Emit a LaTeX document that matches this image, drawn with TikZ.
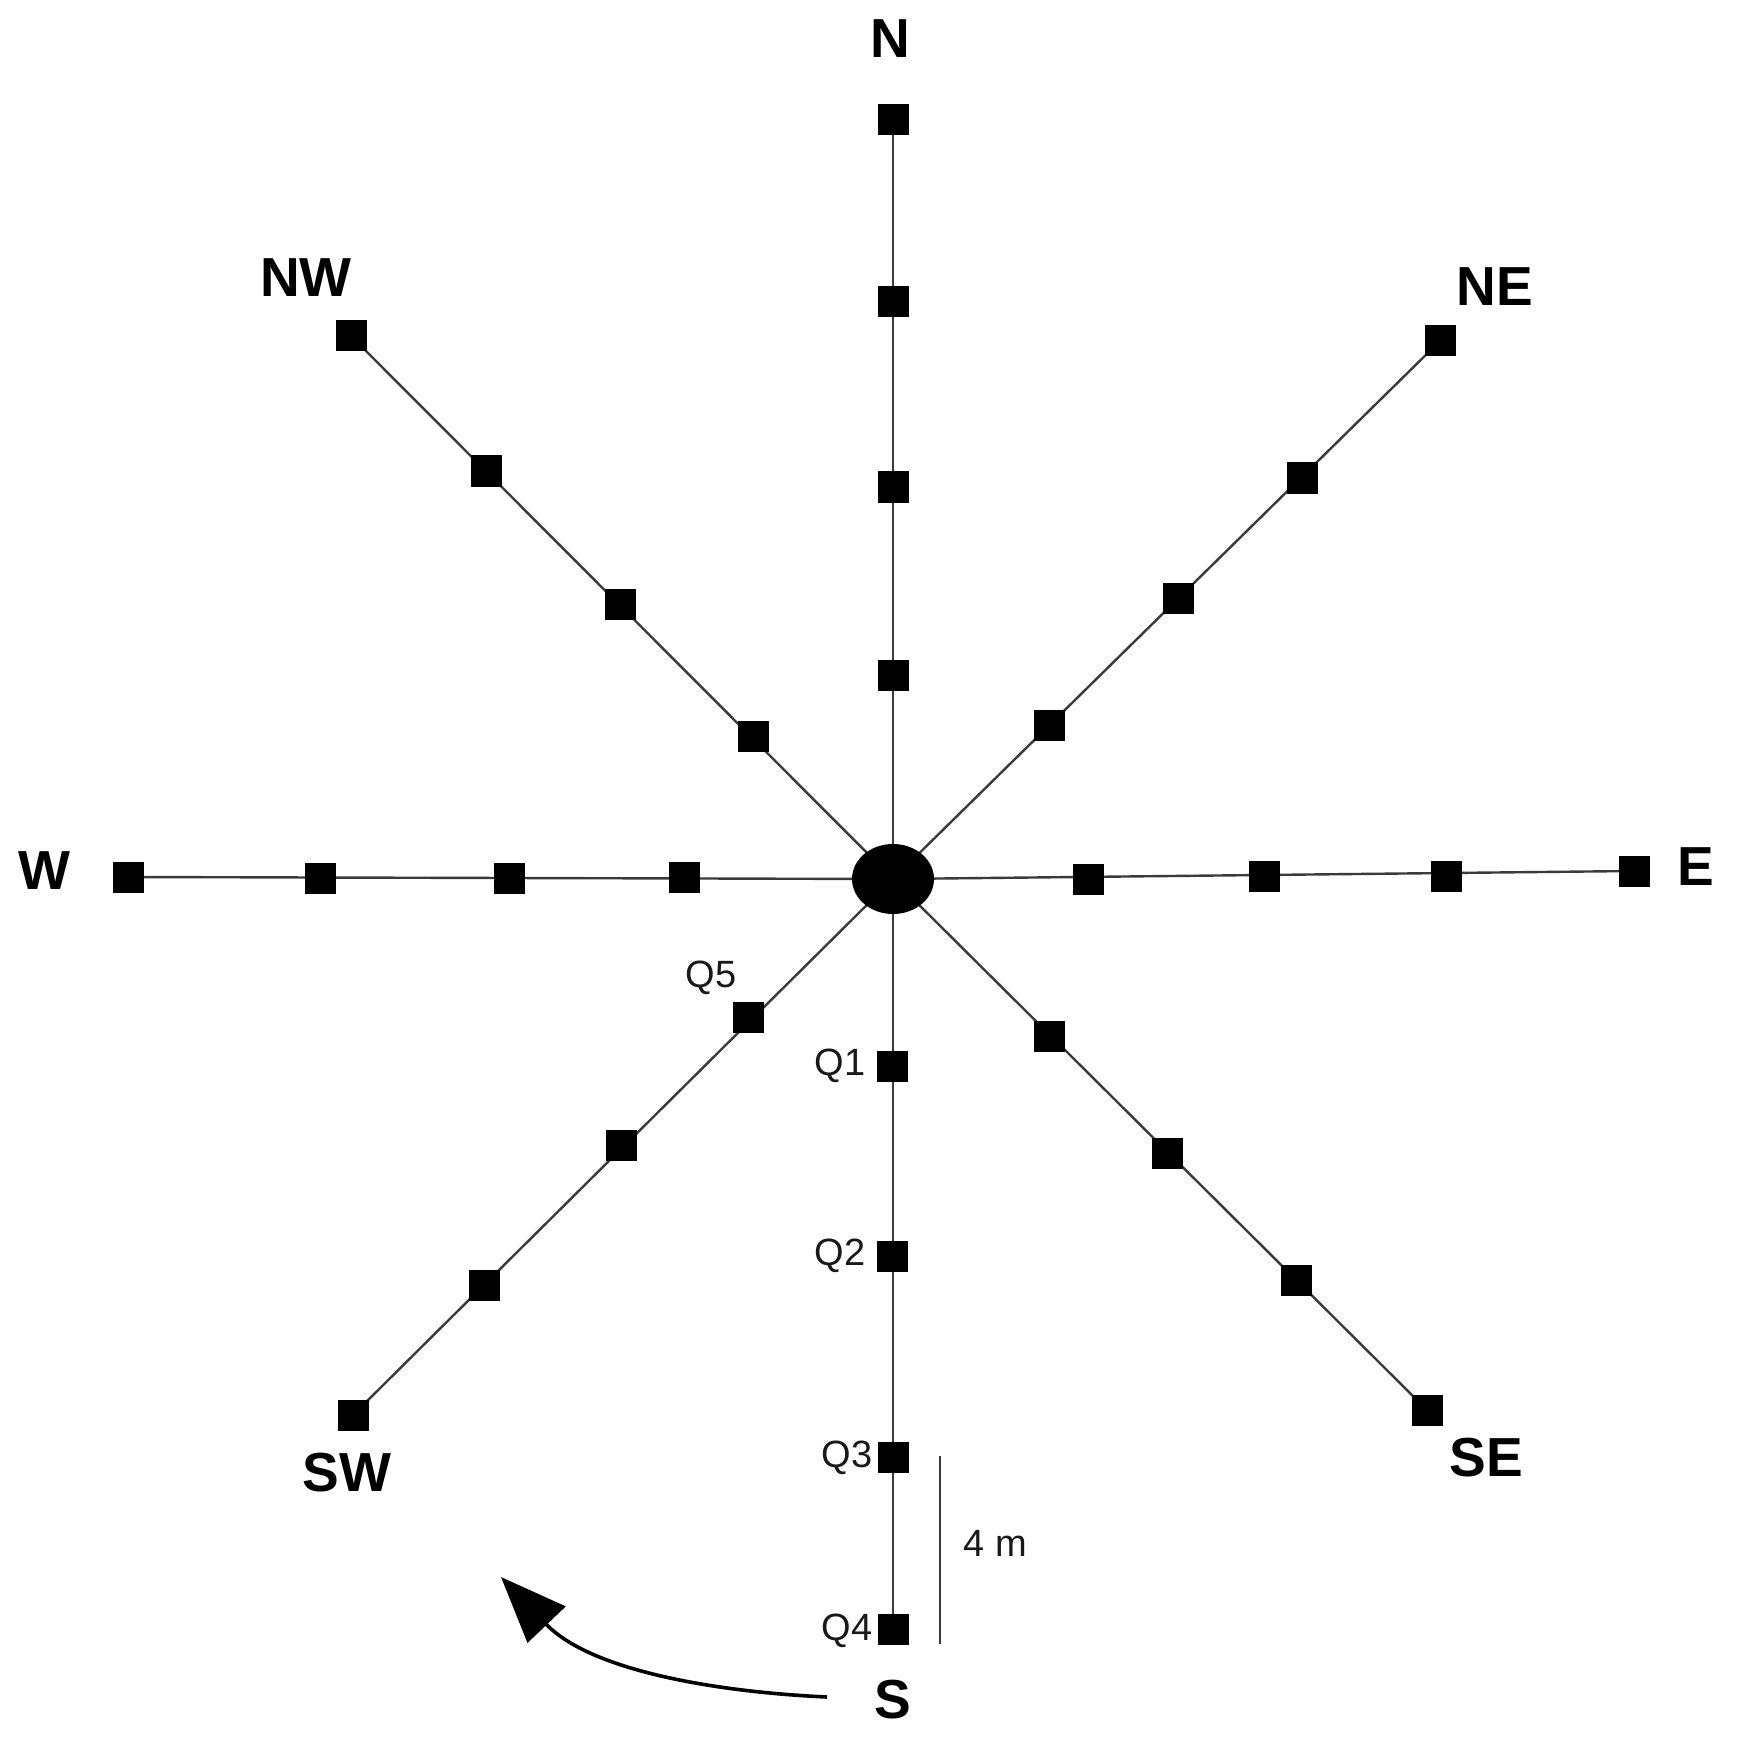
\documentclass[tikz,border=0pt]{standalone}
\usepackage{fontspec}
\setmainfont{Liberation Sans}
\usetikzlibrary{arrows.meta,shapes.geometric,backgrounds}
\definecolor{arm}{HTML}{3A3A3A}
\tikzset{
  plot/.style={fill=black, inner sep=0pt, minimum size=15.5pt, draw=none, shape=rectangle},
  hub/.style={fill=black, draw=none, shape=ellipse, minimum width=41pt, minimum height=35pt, inner sep=0pt},
  arm/.style={draw=arm, line width=1.2pt},
  dirlab/.style={inner sep=0pt, font=\fontsize{27.5}{30}\selectfont\bfseries},
  qlab/.style={inner sep=0pt, font=\fontsize{19}{22}\selectfont, text=black!90},
}
\begin{document}
\begin{tikzpicture}[x=0.5pt,y=-0.5pt]
\useasboundingbox (0,0) rectangle (1743,1754);
% hub
\node[hub] (c) at (893,879) {};
% N arm
\node[plot] (n1) at (893,675) {};
\node[plot] (n2) at (893,487) {};
\node[plot] (n3) at (893,302) {};
\node[plot] (n4) at (893,120) {};
% S arm
\node[plot] (s1) at (892,1066) {};
\node[plot] (s2) at (892,1256) {};
\node[plot] (s3) at (893,1457) {};
\node[plot] (s4) at (893,1629) {};
% E arm
\node[plot] (e1) at (1088,879) {};
\node[plot] (e2) at (1264,876) {};
\node[plot] (e3) at (1446,876) {};
\node[plot] (e4) at (1634,871) {};
% W arm
\node[plot] (w1) at (684,877) {};
\node[plot] (w2) at (509,878) {};
\node[plot] (w3) at (320,878) {};
\node[plot] (w4) at (128,877) {};
% NW arm
\node[plot] (nw1) at (753,736) {};
\node[plot] (nw2) at (620,604) {};
\node[plot] (nw3) at (486,471) {};
\node[plot] (nw4) at (351,336) {};
% NE arm
\node[plot] (ne1) at (1049,725) {};
\node[plot] (ne2) at (1178,598) {};
\node[plot] (ne3) at (1302,478) {};
\node[plot] (ne4) at (1440,341) {};
% SW arm
\node[plot] (sw1) at (748,1017) {};
\node[plot] (sw2) at (621,1145) {};
\node[plot] (sw3) at (484,1285) {};
\node[plot] (sw4) at (353,1415) {};
% SE arm
\node[plot] (se1) at (1049,1036) {};
\node[plot] (se2) at (1167,1153) {};
\node[plot] (se3) at (1296,1280) {};
\node[plot] (se4) at (1427,1410) {};
% arms, behind the plots
\begin{pgfonlayer}{background}
\foreach \d in {n,s,e,w,nw,ne,sw,se}{
  \draw[arm] (c.center) -- (\d4.center);
}
\end{pgfonlayer}
% direction labels
\node[dirlab] (lN) at (890,39) {N};
\node[dirlab] (lNW) at (306,278) {NW};
\node[dirlab] (lNE) at (1495,287) {NE};
\node[dirlab] (lW) at (44,871) {W};
\node[dirlab] (lE) at (1696,867) {E};
\node[dirlab] (lSW) at (347,1473) {SW};
\node[dirlab] (lSE) at (1486,1458) {SE};
\node[dirlab] (lS) at (893,1700) {S};
% quadrat labels
\node[qlab] (q5) at (711,978) {Q5};
\node[qlab] (q1) at (840,1066) {Q1};
\node[qlab] (q2) at (840,1256) {Q2};
\node[qlab] (q3) at (847,1458) {Q3};
\node[qlab] (q4) at (847,1631) {Q4};
% scale bar
\coordinate (sb1) at (940,1456);
\coordinate (sb2) at (940,1644);
\draw[draw=arm, line width=1.1pt] (sb1) -- (sb2);
\node[qlab, anchor=west] (sbl) at (963,1543) {4 m};
% rotation arrow
\coordinate (a0) at (827,1697);
\coordinate (a1) at (501,1577);
\draw[line width=1.8pt, -{Triangle[length=33pt,width=26pt]}] (a0) .. controls (717,1692) and (591,1671) .. (a1);
\end{tikzpicture}
\end{document}
